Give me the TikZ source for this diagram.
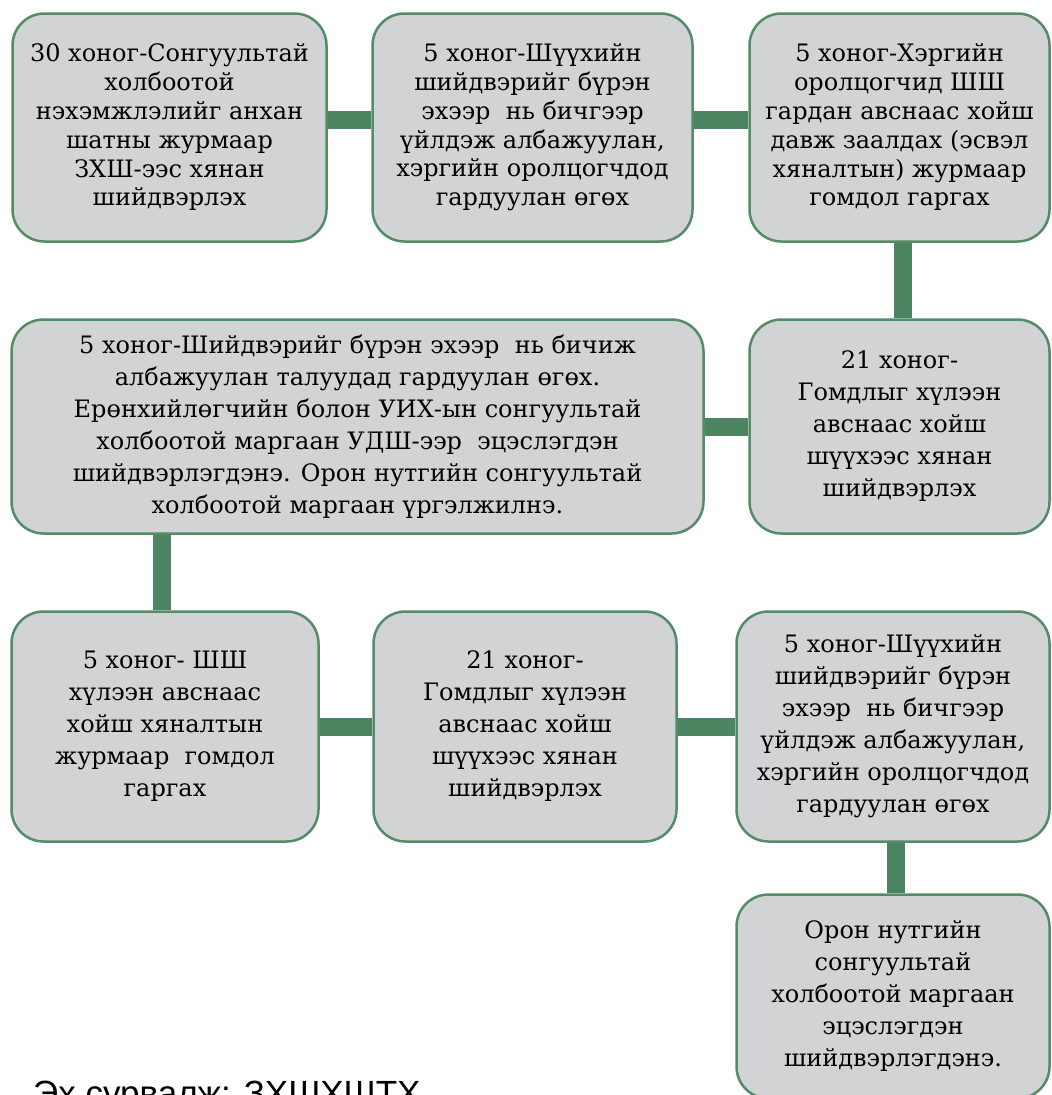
\documentclass[tikz,border=0pt]{standalone}
\usepackage{fontspec}
\setmainfont{DejaVu Serif}
\newfontfamily\notefont{Liberation Sans}
\usepackage{xcolor}
\usepackage{tikz}
\usetikzlibrary{positioning,calc}
\definecolor{boxgreen}{HTML}{548C68}
\definecolor{linkgreen}{HTML}{4D8563}
\definecolor{boxgray}{HTML}{D2D3D5}
\tikzset{
    stage/.style={draw=boxgreen, line width=2.5pt, fill=boxgray, rounded corners=32pt,
        align=center, inner sep=0pt, font=\fontsize{24}{32}\selectfont},
    toprow/.style={stage, font=\fontsize{24}{28.8}\selectfont, minimum height=228pt},
    link/.style={draw=linkgreen, line width=18pt},
}

\begin{document}
\begin{tikzpicture}[x=1pt, y=-1pt]
\useasboundingbox (0,0) rectangle (1052,1095);
\node[toprow, minimum width=314pt] (A) at (169.5,127.5)
    {30 хоног-Сонгуультай\\ холбоотой\\ нэхэмжлэлийг анхан\\ шатны журмаар\\ ЗХШ-ээс хянан\\ шийдвэрлэх};
\node[toprow, minimum width=320pt] (B) at (532.5,127.5)
    {5 хоног-Шүүхийн\\ шийдвэрийг бүрэн\\ эхээр\ \ нь бичгээр\\ үйлдэж албажуулан,\\ хэргийн оролцогчдод\\ гардуулан өгөх};
\node[toprow, minimum width=300pt] (C) at (899.5,127.5)
    {5 хоног-Хэргийн\\ оролцогчид ШШ\\ гардан авснаас хойш\\ давж заалдах (эсвэл\\ хяналтын) журмаар\\ гомдол гаргах};
\node[stage, minimum width=692pt, minimum height=214pt] (D) at (357.5,426.5)
    {5 хоног-Шийдвэрийг бүрэн эхээр\ \ нь бичиж\\ албажуулан талуудад гардуулан өгөх.\\ Ерөнхийлөгчийн болон УИХ-ын сонгуультай\\ холбоотой маргаан УДШ-ээр\ \ эцэслэгдэн\\ шийдвэрлэгдэнэ. Орон нутгийн сонгуультай\\ холбоотой маргаан үргэлжилнэ.};
\node[stage, minimum width=300pt, minimum height=214pt] (E) at (899.5,426.5)
    {21 хоног-\\ Гомдлыг хүлээн\\ авснаас хойш\\ шүүхээс хянан\\ шийдвэрлэх};
\node[stage, minimum width=307pt, minimum height=230pt] (F) at (165,726.5)
    {5 хоног- ШШ\\ хүлээн авснаас\\ хойш хяналтын\\ журмаар\ \ гомдол\\ гаргах};
\node[stage, minimum width=303pt, minimum height=230pt] (G) at (525,726.5)
    {21 хоног-\\ Гомдлыг хүлээн\\ авснаас хойш\\ шүүхээс хянан\\ шийдвэрлэх};
\node[stage, minimum width=313pt, minimum height=230pt] (H) at (893,726.5)
    {5 хоног-Шүүхийн\\ шийдвэрийг бүрэн\\ эхээр\ \ нь бичгээр\\ үйлдэж албажуулан,\\ хэргийн оролцогчдод\\ гардуулан өгөх};
\node[stage, minimum width=313pt, minimum height=204pt] (I) at (893,996.5)
    {Орон нутгийн\\ сонгуультай\\ холбоотой маргаан\\ эцэслэгдэн\\ шийдвэрлэгдэнэ.};
\node[anchor=base west, inner sep=0pt, font=\notefont\fontsize{35}{40}\selectfont] (src) at (33,1105)
    {Эх сурвалж: ЗХШХШТХ};

\draw[link] ([yshift=8pt]A.east) -- ([yshift=8pt]B.west);
\draw[link] ([yshift=8pt]B.east) -- ([yshift=8pt]C.west);
\draw[link] ([xshift=3pt]C.south) -- ([xshift=3pt]E.north);
\draw[link] (E.west) -- (D.east);
\draw[link] ([xshift=-3pt]F.north) -- ([xshift=-3pt]F.north |- D.south);
\draw[link] (F.east) -- (G.west);
\draw[link] (G.east) -- (H.west);
\draw[link] ([xshift=3pt]H.south) -- ([xshift=3pt]I.north);
\end{tikzpicture}
\end{document}
